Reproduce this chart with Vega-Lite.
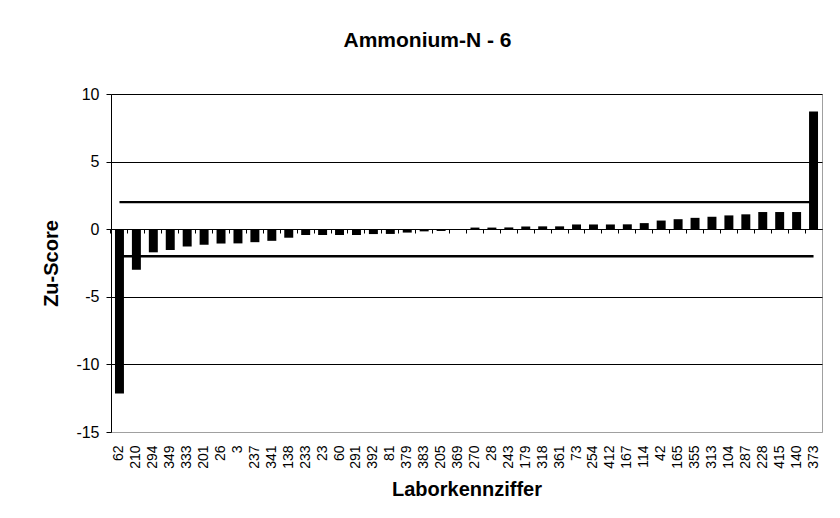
{
  "$schema": "https://vega.github.io/schema/vega-lite/v6.json",
  "width": 711,
  "height": 338,
  "autosize": {"type": "none"},
  "padding": {"left": 111, "top": 94, "right": 18, "bottom": 86},
  "background": "white",
  "title": {"text": "Ammonium-N - 6", "font": "Liberation Sans", "fontSize": 21, "fontWeight": "bold", "color": "black", "anchor": "middle", "dx": -39, "offset": 18, "baseline": "alphabetic"},
  "config": {
    "font": "Liberation Sans",
    "view": {"stroke": "#a0a0a0", "strokeWidth": 1},
    "axisY": {"labelFont": "Liberation Sans", "titleFont": "Liberation Sans"},
    "axisX": {"labelFont": "Liberation Sans", "titleFont": "Liberation Sans"}
  },
  "data": {"values": [
    {"lab": "62", "z": -12.15, "ober": 2, "unter": -2},
    {"lab": "210", "z": -3.0, "ober": 2, "unter": -2},
    {"lab": "294", "z": -1.71, "ober": 2, "unter": -2},
    {"lab": "349", "z": -1.54, "ober": 2, "unter": -2},
    {"lab": "333", "z": -1.28, "ober": 2, "unter": -2},
    {"lab": "201", "z": -1.15, "ober": 2, "unter": -2},
    {"lab": "26", "z": -1.06, "ober": 2, "unter": -2},
    {"lab": "3", "z": -1.05, "ober": 2, "unter": -2},
    {"lab": "237", "z": -0.96, "ober": 2, "unter": -2},
    {"lab": "341", "z": -0.86, "ober": 2, "unter": -2},
    {"lab": "138", "z": -0.63, "ober": 2, "unter": -2},
    {"lab": "233", "z": -0.43, "ober": 2, "unter": -2},
    {"lab": "23", "z": -0.43, "ober": 2, "unter": -2},
    {"lab": "60", "z": -0.43, "ober": 2, "unter": -2},
    {"lab": "291", "z": -0.43, "ober": 2, "unter": -2},
    {"lab": "392", "z": -0.36, "ober": 2, "unter": -2},
    {"lab": "81", "z": -0.35, "ober": 2, "unter": -2},
    {"lab": "379", "z": -0.25, "ober": 2, "unter": -2},
    {"lab": "383", "z": -0.16, "ober": 2, "unter": -2},
    {"lab": "205", "z": -0.13, "ober": 2, "unter": -2},
    {"lab": "369", "z": -0.04, "ober": 2, "unter": -2},
    {"lab": "270", "z": 0.12, "ober": 2, "unter": -2},
    {"lab": "28", "z": 0.12, "ober": 2, "unter": -2},
    {"lab": "243", "z": 0.13, "ober": 2, "unter": -2},
    {"lab": "179", "z": 0.2, "ober": 2, "unter": -2},
    {"lab": "318", "z": 0.21, "ober": 2, "unter": -2},
    {"lab": "361", "z": 0.21, "ober": 2, "unter": -2},
    {"lab": "73", "z": 0.35, "ober": 2, "unter": -2},
    {"lab": "254", "z": 0.35, "ober": 2, "unter": -2},
    {"lab": "412", "z": 0.35, "ober": 2, "unter": -2},
    {"lab": "167", "z": 0.36, "ober": 2, "unter": -2},
    {"lab": "114", "z": 0.45, "ober": 2, "unter": -2},
    {"lab": "42", "z": 0.64, "ober": 2, "unter": -2},
    {"lab": "165", "z": 0.74, "ober": 2, "unter": -2},
    {"lab": "355", "z": 0.84, "ober": 2, "unter": -2},
    {"lab": "313", "z": 0.92, "ober": 2, "unter": -2},
    {"lab": "104", "z": 1.02, "ober": 2, "unter": -2},
    {"lab": "287", "z": 1.1, "ober": 2, "unter": -2},
    {"lab": "228", "z": 1.27, "ober": 2, "unter": -2},
    {"lab": "415", "z": 1.27, "ober": 2, "unter": -2},
    {"lab": "140", "z": 1.27, "ober": 2, "unter": -2},
    {"lab": "373", "z": 8.7, "ober": 2, "unter": -2}
  ]},
  "layer": [
    {
      "mark": {"type": "bar", "color": "black"},
      "encoding": {
        "x": {"field": "lab", "type": "nominal", "sort": null,
              "scale": {"paddingInner": 0.47, "paddingOuter": 0.235},
              "axis": {"orient": "bottom", "labelAngle": -90, "labelFontSize": 14, "labelColor": "black", "labelPadding": 13,
                       "ticks": false, "domain": false, "grid": false,
                       "title": "Laborkennziffer", "titleFontSize": 20, "titleFontWeight": "bold", "titlePadding": 11, "titleColor": "black"}},
        "y": {"field": "z", "type": "quantitative",
              "scale": {"domain": [-15, 10], "nice": false, "zero": false},
              "axis": {"values": [-15, -10, -5, 0, 5, 10], "grid": true,
                       "labelExpr": "toString(datum.value)",
                       "gridColor": {"condition": {"test": "datum.value === -15", "value": "#a0a0a0"}, "value": "black"},
                       "gridOpacity": 1, "gridWidth": 1,
                       "domain": true, "domainColor": "black", "tickColor": "black", "tickSize": 5,
                       "labelFontSize": 16, "labelColor": "black", "labelPadding": 7,
                       "title": "Zu-Score", "titleFontSize": 20, "titleFontWeight": "bold", "titleColor": "black", "titlePadding": 14}}
      }
    },
    {
      "mark": {"type": "line", "color": "black", "strokeWidth": 2.3},
      "encoding": {
        "x": {"field": "lab", "type": "nominal", "sort": null,
              "axis": {"orient": "bottom", "offset": -203, "labels": false, "title": null, "grid": false,
                       "domain": true, "domainColor": "black", "domainWidth": 1,
                       "ticks": true, "tickColor": "black", "tickSize": 4, "bandPosition": -0.444}},
        "y": {"field": "ober", "type": "quantitative", "title": "Zu-Score"}
      }
    },
    {
      "mark": {"type": "line", "color": "black", "strokeWidth": 2.3},
      "encoding": {
        "x": {"field": "lab", "type": "nominal", "sort": null, "axis": null},
        "y": {"field": "unter", "type": "quantitative", "title": "Zu-Score"}
      }
    }
  ],
  "resolve": {"axis": {"x": "independent"}}
}
